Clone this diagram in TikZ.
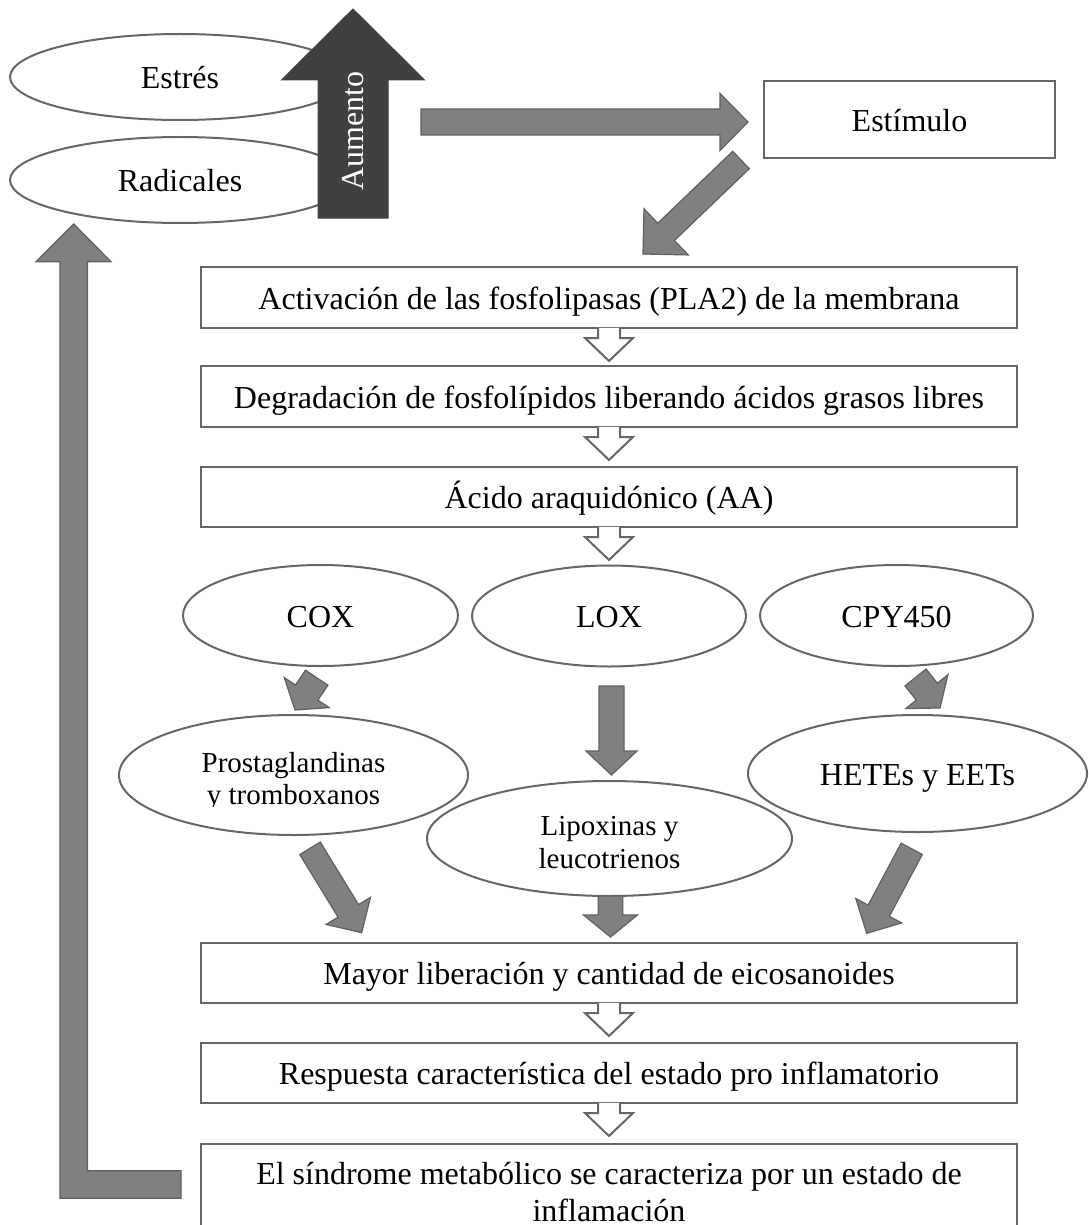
\documentclass[tikz,border=0pt]{standalone}
\usepackage{fontspec}
\setmainfont{Liberation Serif}
\usetikzlibrary{calc,shapes.geometric}

\definecolor{boxline}{HTML}{666666}
\definecolor{arrowfill}{HTML}{808080}
\definecolor{arrowedge}{HTML}{606060}
\definecolor{darkfill}{HTML}{404040}

% block arrow: #1 style, #2 tail, #3 tip, #4 half shaft width, #5 half head width, #6 head length
\newcommand\blockarrow[6]{%
  \draw[#1] ($(#2)!#4!90:(#3)$)
    -- ($(#3)!#6!(#2)!#4!90:(#3)$)
    -- ($(#3)!#6!(#2)!#5!90:(#3)$)
    -- (#3)
    -- ($(#3)!#6!(#2)!#5!-90:(#3)$)
    -- ($(#3)!#6!(#2)!#4!-90:(#3)$)
    -- ($(#2)!#4!-90:(#3)$) -- cycle;}

% open white arrow hanging from the bottom edge of a box
\newcommand\hollowdown[1]{%
  \filldraw[hollow] ($(#1.south)+(-11,-1.2)$) -- ++(0,10.2) -- ++(-13,0)
    -- ++(24,23) -- ++(24,-23) -- ++(-13,0) -- ++(0,-10.2);}

\tikzset{
  mainfont/.style={font=\fontsize{32}{37}\selectfont},
  stepbox/.style={rectangle, draw=boxline, line width=2pt, fill=white,
    minimum width=816pt, minimum height=61pt, inner sep=0pt,
    text height=23pt, text depth=0pt, mainfont},
  oval/.style={ellipse, draw=boxline, line width=2pt, fill=white,
    inner sep=0pt, text height=23pt, text depth=0pt, mainfont},
  smalloval/.style={oval, align=center, font=\fontsize{29}{32}\selectfont},
  grayarrow/.style={fill=arrowfill, draw=arrowedge, line width=1.2pt},
  darkarrow/.style={fill=darkfill, draw=darkfill, line width=1pt},
  hollow/.style={draw=boxline, line width=2pt, fill=white},
}

\begin{document}
\begin{tikzpicture}[x=1pt,y=-1pt]
\useasboundingbox (0,0) rectangle (1088,1225);
\clip (0,0) rectangle (1088,1225);

% causes
\node[oval, minimum width=340pt, minimum height=86pt] (estres) at (180,77) {Estrés};
\node[oval, minimum width=340pt, minimum height=86pt] (radicales) at (180,180) {Radicales};

% "Aumento" arrow
\coordinate (aumtail) at (353,218);
\coordinate (aumtip) at (353,9);
\blockarrow{darkarrow}{aumtail}{aumtip}{35pt}{71.5pt}{71pt}
\node[rotate=90, text=white, mainfont, inner sep=0pt, text height=23pt, text depth=0pt] (aumtxt) at (352,131) {Aumento};

% stimulus
\node[stepbox, minimum width=291pt, minimum height=77pt] (estimulo) at (909.5,120) {Estímulo};
\coordinate (hztail) at (421,122);
\coordinate (hztip) at (748,122);
\blockarrow{grayarrow}{hztail}{hztip}{13pt}{28.5pt}{28pt}

% main chain
\node[stepbox] (b1) at (609,297.5) {Activación de las fosfolipasas (PLA2) de la membrana};
\node[stepbox] (b2) at (609,396.5) {Degradación de fosfolípidos liberando ácidos grasos libres};
\node[stepbox, minimum height=60pt] (b3) at (609,497) {Ácido araquidónico (AA)};

\coordinate (sttail) at (741,160);
\coordinate (sttip) at (643,254);
\blockarrow{grayarrow}{sttail}{sttip}{12pt}{32pt}{32pt}

\hollowdown{b1}
\hollowdown{b2}
\hollowdown{b3}

% enzymes
\node[oval, minimum width=275pt, minimum height=101pt] (cox) at (320.5,615.5) {COX};
\node[oval, minimum width=274pt, minimum height=101pt] (lox) at (609,616) {LOX};
\node[oval, minimum width=273pt, minimum height=101pt] (cpy) at (896.5,615.5) {CPY450};

% products (two-line labels: the last baseline sits text height/2 below the centre)
\node[smalloval, minimum width=349pt, minimum height=120pt, text height=58pt, text depth=0pt] (prosta) at (293.5,775) {Prostaglandinas\\y tromboxanos};
\fill[white] (200,806.5) rectangle (392,815);
\node[smalloval, minimum width=365pt, minimum height=115pt, text height=59pt, text depth=0pt, font=\fontsize{29}{33}\selectfont] (lipox) at (609.5,838.5) {Lipoxinas y\\leucotrienos};
\node[oval, minimum width=339pt, minimum height=117pt] (hetes) at (917.5,773.5) {HETEs y EETs};

\coordinate (coxtail) at (316.7,677.7);
\coordinate (coxtip) at (295,710);
\blockarrow{grayarrow}{coxtail}{coxtip}{13.5pt}{27pt}{21pt}
\coordinate (cpytail) at (915.5,677.5);
\coordinate (cpytip) at (940,708);
\blockarrow{grayarrow}{cpytail}{cpytip}{13.5pt}{27pt}{21pt}
\coordinate (loxtail) at (611.5,686);
\coordinate (loxtip) at (611.5,775);
\blockarrow{grayarrow}{loxtail}{loxtip}{12.5pt}{25.5pt}{24pt}

% convergence on the eicosanoids
\node[stepbox, minimum height=60pt] (b4) at (609,973) {Mayor liberación y cantidad de eicosanoides};
\node[stepbox, minimum height=60pt] (b5) at (609,1073) {Respuesta característica del estado pro inflamatorio};
\node[stepbox, anchor=north, minimum height=95pt, text height=60pt, text depth=0pt, align=center,
  font=\fontsize{32}{36.7}\selectfont] (b6) at (609,1143)
  {El síndrome metabólico se caracteriza por un estado de\\inflamación};

\coordinate (prtail) at (310,848.3);
\coordinate (prtip) at (361.7,932.7);
\blockarrow{grayarrow}{prtail}{prtip}{12pt}{26pt}{25.6pt}
\coordinate (hetail) at (911.7,848.8);
\coordinate (hetip) at (866.7,933.3);
\blockarrow{grayarrow}{hetail}{hetip}{12pt}{26pt}{25.6pt}
\coordinate (lptail) at (610.5,896);
\coordinate (lptip) at (610.5,937);
\blockarrow{grayarrow}{lptail}{lptip}{12.2pt}{27pt}{22pt}

\hollowdown{b4}
\hollowdown{b5}

% feedback loop back to the causes
\coordinate (looptail) at (181,1184.5);
\coordinate (looptip) at (73.7,224);
\draw[grayarrow] (looptail) ++(0,-13.8) -- (87.5,1170.7) -- (87.5,261.7) -- (111,261.7)
  -- (looptip) -- (36,261.7) -- (60,261.7) -- (60,1198.3) -- (181,1198.3) -- cycle;
\end{tikzpicture}
\end{document}
